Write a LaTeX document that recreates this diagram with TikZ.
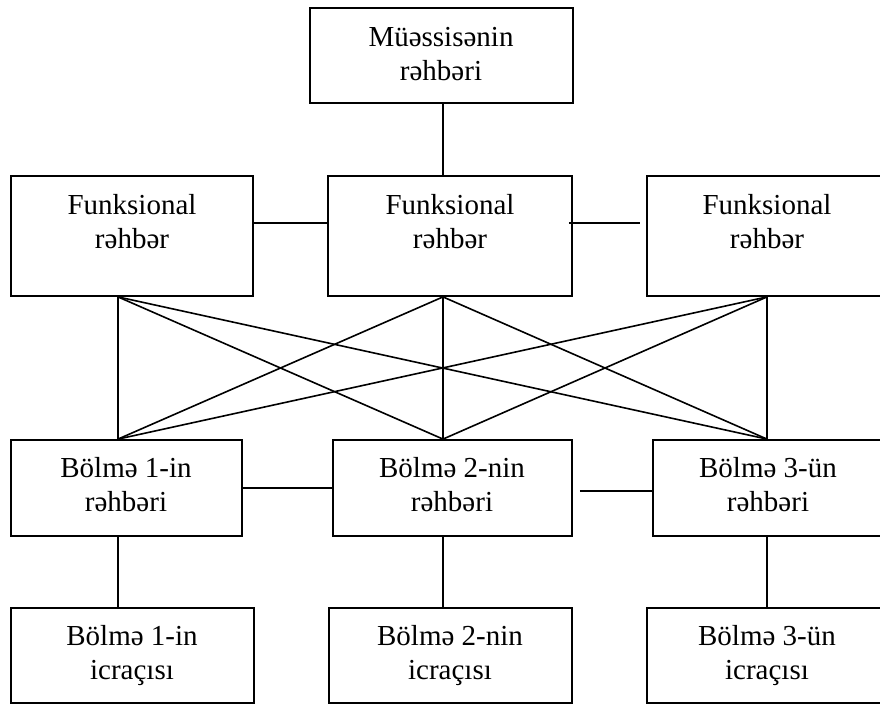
\documentclass[tikz,border=0pt]{standalone}
\usepackage{fontspec}
\setmainfont{Liberation Serif}
\begin{document}
\begin{tikzpicture}[x=1pt,y=-1pt,
  box/.style={draw=black, line width=1.8pt, rectangle, inner sep=0pt, minimum width=#1},
  box/.default=240pt,
  txt/.style={anchor=base, align=center, inner sep=0pt, font=\fontsize{29}{34}\selectfont},
  conn/.style={draw=black, line width=1.6pt}]
\path[use as bounding box, clip] (0,0) rectangle (880,704);
% boxes
\node[box=263pt, minimum height=95pt] (T) at (441.5,55.5) {};
\node[box=242pt, minimum height=120pt] (F1) at (132,236) {};
\node[box=244pt, minimum height=120pt] (F2) at (450,236) {};
\node[box=238pt, minimum height=120pt] (F3) at (766,236) {};
\node[box=231pt, minimum height=96pt] (B1) at (126.5,488) {};
\node[box=239pt, minimum height=96pt] (B2) at (452.5,488) {};
\node[box=232pt, minimum height=96pt] (B3) at (769,488) {};
\node[box=243pt, minimum height=95pt] (I1) at (132.5,655.5) {};
\node[box=243pt, minimum height=95pt] (I2) at (450.5,655.5) {};
\node[box=240pt, minimum height=95pt] (I3) at (767,655.5) {};
% texts (anchor base = baseline of the last line)
\node[txt] (tT) at (441,80) {Müəssisənin\\rəhbəri};
\node[txt] (tF1) at (132,248) {Funksional\\rəhbər};
\node[txt] (tF2) at (450,248) {Funksional\\rəhbər};
\node[txt] (tF3) at (767,248) {Funksional\\rəhbər};
\node[txt] (tB1) at (126,511) {Bölmə 1-in\\rəhbəri};
\node[txt] (tB2) at (452,511) {Bölmə 2-nin\\rəhbəri};
\node[txt] (tB3) at (768,511) {Bölmə 3-ün\\rəhbəri};
\node[txt] (tI1) at (132,679) {Bölmə 1-in\\icraçısı};
\node[txt] (tI2) at (450,679) {Bölmə 2-nin\\icraçısı};
\node[txt] (tI3) at (767,679) {Bölmə 3-ün\\icraçısı};
% helper coordinates
\coordinate (c1) at (118,0);
\coordinate (c2) at (443,0);
\coordinate (c3) at (767,0);
\coordinate (h2) at (0,223);
\coordinate (h3a) at (0,488);
\coordinate (h3b) at (0,491);
% connectors
\draw[conn] (T.south -| c2) -- (F2.north -| c2);
\draw[conn] (F1.east |- h2) -- (F2.west |- h2);
\draw[conn] ([xshift=-4pt]F2.east |- h2) -- ([xshift=-6pt]F3.west |- h2);
\draw[conn] (B1.east |- h3a) -- (B2.west |- h3a);
\draw[conn] ([xshift=7pt]B2.east |- h3b) -- (B3.west |- h3b);
\foreach \a/\u in {F1/c1,F2/c2,F3/c3}{
  \foreach \b/\v in {B1/c1,B2/c2,B3/c3}{
    \draw[conn] (\a.south -| \u) -- (\b.north -| \v);
  }
}
\draw[conn] (B1.south -| c1) -- (I1.north -| c1);
\draw[conn] (B2.south -| c2) -- (I2.north -| c2);
\draw[conn] (B3.south -| c3) -- (I3.north -| c3);
\end{tikzpicture}
\end{document}
